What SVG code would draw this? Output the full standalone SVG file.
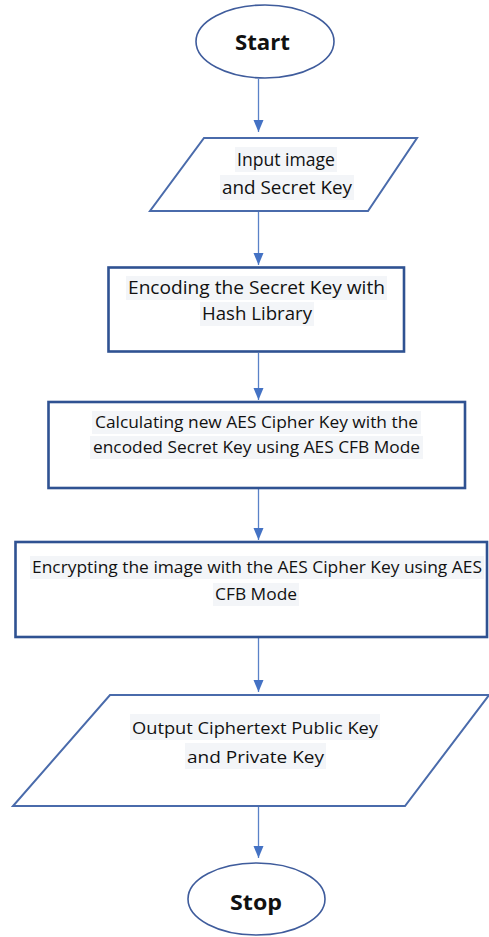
<svg xmlns="http://www.w3.org/2000/svg" width="489" height="937" viewBox="0 0 489 937">
  <style>
    .term { fill: #ffffff; stroke: #3f5c9c; stroke-width: 1.6; }
    .io { fill: #ffffff; stroke: #4a6bab; stroke-width: 2; stroke-linejoin: miter; }
    .proc { fill: #ffffff; stroke: #2f5292; stroke-width: 2.6; }
    .hl { fill: #f3f5f8; }
    .lbl { font-family: "Open Sans", "Noto Sans", "Liberation Sans", sans-serif; fill: #111111; text-anchor: middle; }
    .big { font-size: 17.5px; }
    .mid { font-size: 16px; }
    .bold { font-family: "Open Sans", "Noto Sans", "Liberation Sans", sans-serif; font-weight: bold; font-size: 21px; fill: #111111; text-anchor: middle; }
    .edge { stroke: #5a82c8; stroke-width: 1.3; fill: none; marker-end: url(#arrow); }
  </style>
  <defs>
    <marker id="arrow" viewBox="0 0 12 10" refX="12" refY="5" markerWidth="12" markerHeight="11" markerUnits="userSpaceOnUse" orient="auto">
      <path d="M0,0 L12,5 L0,10 z" fill="#4472c4"/>
    </marker>
  </defs>

  <rect width="489" height="937" fill="#ffffff"/>

  <!-- connectors -->
  <g id="connectors">
    <line class="edge" x1="258.5" y1="79" x2="258.5" y2="132"/>
    <line class="edge" x1="258.5" y1="212" x2="258.5" y2="265"/>
    <line class="edge" x1="258.5" y1="353" x2="258.5" y2="400"/>
    <line class="edge" x1="258.5" y1="489" x2="258.5" y2="540"/>
    <line class="edge" x1="258.5" y1="638" x2="258.5" y2="692"/>
    <line class="edge" x1="258.5" y1="807" x2="258.5" y2="858"/>
  </g>

  <!-- start terminal -->
  <g id="start">
    <ellipse class="term" cx="265" cy="41.5" rx="69" ry="36.5"/>
    <text class="bold" x="262.5" y="50" textLength="55" lengthAdjust="spacingAndGlyphs">Start</text>
  </g>

  <!-- input data -->
  <g id="input">
    <polygon class="io" points="204,138 417,138 368,211 150,211"/>
    <rect class="hl" x="235" y="147" width="102" height="25"/>
    <rect class="hl" x="220" y="175" width="134" height="25"/>
    <text class="lbl big" x="286" y="166" textLength="98" lengthAdjust="spacingAndGlyphs">Input image</text>
    <text class="lbl big" x="287" y="194" textLength="130" lengthAdjust="spacingAndGlyphs">and Secret Key</text>
  </g>

  <!-- hash encoding step -->
  <g id="encode">
    <rect class="proc" x="108.5" y="267.5" width="295.5" height="84"/>
    <rect class="hl" x="126" y="276" width="261" height="24"/>
    <rect class="hl" x="200" y="302" width="114" height="24"/>
    <text class="lbl big" x="256.5" y="294" textLength="257" lengthAdjust="spacingAndGlyphs">Encoding the Secret Key with</text>
    <text class="lbl big" x="257" y="320" textLength="110" lengthAdjust="spacingAndGlyphs">Hash Library</text>
  </g>

  <!-- cipher key derivation step -->
  <g id="derive">
    <rect class="proc" x="48.5" y="402" width="416.5" height="86"/>
    <rect class="hl" x="92" y="411" width="329" height="23"/>
    <rect class="hl" x="90" y="436" width="333" height="23"/>
    <text class="lbl mid" x="256.5" y="428" textLength="323" lengthAdjust="spacingAndGlyphs">Calculating new AES Cipher Key with the</text>
    <text class="lbl mid" x="256.5" y="453" textLength="327" lengthAdjust="spacingAndGlyphs">encoded Secret Key using AES CFB Mode</text>
  </g>

  <!-- image encryption step -->
  <g id="encrypt">
    <rect class="proc" x="15.5" y="542" width="471.5" height="95"/>
    <rect class="hl" x="30" y="556" width="454" height="23"/>
    <rect class="hl" x="213" y="583" width="86" height="23"/>
    <text class="lbl mid" x="257" y="573" textLength="450" lengthAdjust="spacingAndGlyphs">Encrypting the image with the AES Cipher Key using AES</text>
    <text class="lbl mid" x="256" y="600" textLength="82" lengthAdjust="spacingAndGlyphs">CFB Mode</text>
  </g>

  <!-- output data -->
  <g id="output">
    <polygon class="io" points="110,695 489,695 405,806 13,806"/>
    <rect class="hl" x="130" y="714" width="250" height="26"/>
    <rect class="hl" x="185" y="743" width="141" height="26"/>
    <text class="lbl mid" x="255" y="734" textLength="246" lengthAdjust="spacingAndGlyphs">Output Ciphertext Public Key</text>
    <text class="lbl mid" x="255.5" y="763" textLength="137" lengthAdjust="spacingAndGlyphs">and Private Key</text>
  </g>

  <!-- stop terminal -->
  <g id="stop">
    <ellipse class="term" cx="256.5" cy="899" rx="68.5" ry="36"/>
    <text class="bold" x="256" y="910" textLength="52" lengthAdjust="spacingAndGlyphs">Stop</text>
  </g>
</svg>
